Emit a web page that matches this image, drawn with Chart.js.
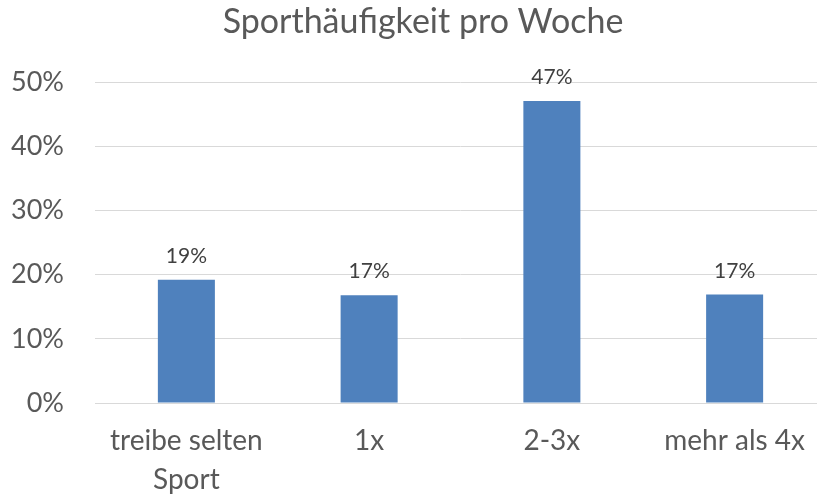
<!DOCTYPE html>
<html>
<head>
<meta charset="utf-8">
<script src="https://cdn.jsdelivr.net/npm/chart.js@4"></script>
<style>
html,body{margin:0;padding:0;overflow:hidden;background:#fff;width:817px;height:499px;}
canvas{display:block;}
</style>
</head>
<body>
<canvas id="c" width="850" height="499"></canvas>
<script>
const chartTitle = 'Sporthäufigkeit pro Woche';
const categories = [['treibe selten','Sport'], '1x', '2-3x', 'mehr als 4x'];
const values = [19.2, 16.8, 47.1, 16.9];
const yTicks = [0, 10, 20, 30, 40, 50];

const FONT = 'Lato, "Open Sans", sans-serif';

const dataLabels = {
  id: 'dataLabels',
  afterDatasetsDraw(chart) {
    const ctx = chart.ctx;
    const meta = chart.getDatasetMeta(0);
    ctx.save();
    ctx.font = '21px ' + FONT;
    ctx.fillStyle = '#404040';
    ctx.textAlign = 'center';
    ctx.textBaseline = 'alphabetic';
    meta.data.forEach((el, i) => {
      ctx.fillText(Math.round(values[i]) + '%', el.x, el.y - 17);
    });
    ctx.restore();
  }
};

const titleText = {
  id: 'titleText',
  afterDraw(chart) {
    const ctx = chart.ctx;
    ctx.save();
    ctx.font = '34px ' + FONT;
    ctx.fillStyle = '#595959';
    ctx.textAlign = 'center';
    ctx.textBaseline = 'middle';
    ctx.fillText(chartTitle, 423, 22.4);
    ctx.restore();
  }
};

new Chart(document.getElementById('c'), {
  type: 'bar',
  data: {
    labels: categories,
    datasets: [{
      data: values,
      backgroundColor: '#4f81bd',
      borderWidth: 0,
      barPercentage: 0.312,
      categoryPercentage: 1.0
    }]
  },
  options: {
    responsive: false,
    animation: false,
    layout: { padding: { left: 0, right: 24, top: 82.3, bottom: 0 } },
    plugins: {
      legend: { display: false },
      tooltip: { enabled: false },
      title: { display: false }
    },
    scales: {
      x: {
        grid: { display: false, drawTicks: false },
        border: { display: true, color: '#d9d9d9', width: 1 },
        ticks: {
          color: '#595959',
          font: { family: FONT, size: 28, lineHeight: 1.375 },
          padding: 19,
          maxRotation: 0,
          autoSkip: false
        },
        afterFit(s) { s.height = 96; }
      },
      y: {
        min: 0,
        max: 50,
        afterBuildTicks(s) { s.ticks = yTicks.map(v => ({ value: v })); },
        grid: { color: '#d9d9d9', lineWidth: 1, drawTicks: false },
        border: { display: false },
        ticks: {
          color: '#595959',
          font: { family: FONT, size: 27 },
          padding: 31,
          callback: v => v + '%'
        },
        afterFit(s) { s.width = 95; }
      }
    }
  },
  plugins: [dataLabels, titleText]
});
</script>
</body>
</html>
